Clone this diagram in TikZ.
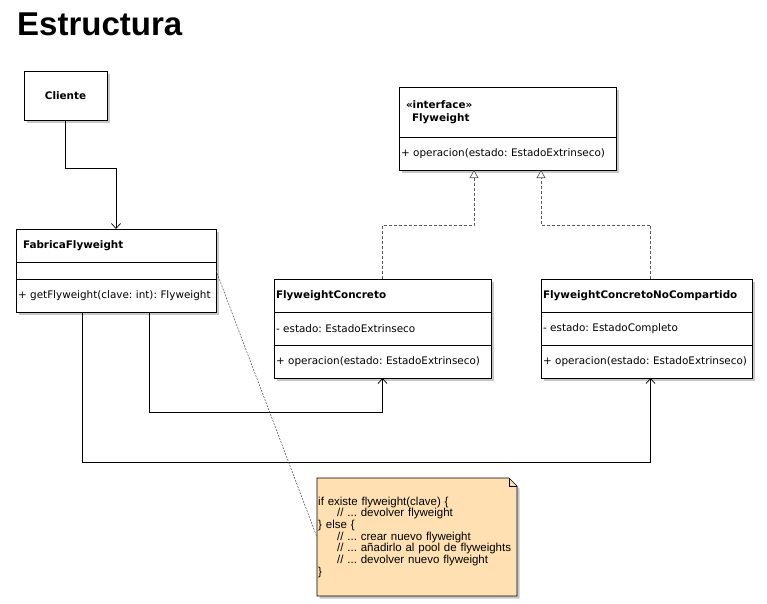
\documentclass[tikz,border=0pt]{standalone}
\usepackage{fontspec}
\setmainfont{DejaVu Sans}
\newfontfamily\umlfont{DejaVu Sans}
\newfontfamily\notafont{Liberation Sans}
\usetikzlibrary{calc,arrows.meta,shadows}
\definecolor{notaFondo}{RGB}{254,224,178}
\frenchspacing
\hyphenpenalty=10000
\exhyphenpenalty=10000

\tikzset{
  caja/.style={draw, fill=white, line width=0.8pt, anchor=north west, outer sep=0pt,
    inner xsep=2pt, inner ysep=0pt, align=left,
    font=\umlfont\fontsize{10.4}{13}\selectfont,
    drop shadow={shadow xshift=2.5pt, shadow yshift=-2.5pt, fill=black!22, opacity=1}},
  negrita/.style={font=\umlfont\bfseries\fontsize{10.4}{13}\selectfont},
  usa/.style={line width=0.7pt, -{Straight Barb[length=5pt,width=9pt]}},
  realiza/.style={line width=0.7pt, black!65, dash pattern=on 3pt off 2pt,
    -{Triangle[open,length=8pt,width=9pt,fill=white]}},
  enlace/.style={line width=0.5pt, black!70, dash pattern=on 2pt off 1.2pt}
}

\begin{document}
\begin{tikzpicture}[x=1pt,y=-1pt]
\useasboundingbox (0,0) rectangle (767,603);

\node[anchor=base west, inner sep=0pt, font=\notafont\bfseries\fontsize{33}{36}\selectfont] (titulo) at (17,35) {Estructura};

% cliente
\node[caja, negrita, anchor=center, align=center, minimum width=83pt, minimum height=49pt] (cliente) at (65.5,95.5) {Cliente};

% interfaz
\node[caja, negrita, text width=213pt, minimum height=50pt] (intNombre) at (399,87) {\hspace*{5pt}«interface»\\\hspace*{11pt}Flyweight};
\node[caja, text width=213pt, minimum height=33pt] (intOps) at (intNombre.south west) {+ operacion(estado: EstadoExtrinseco)};

% fabrica
\node[caja, negrita, text width=196pt, minimum height=33pt] (fabNombre) at (16,229) {\hspace*{5pt}FabricaFlyweight};
\node[caja, text width=196pt, minimum height=17pt] (fabAtrib) at (fabNombre.south west) {};
\node[caja, text width=196pt, minimum height=33pt] (fabOps) at (fabAtrib.south west) {+ getFlyweight(clave: int): Flyweight};

% concretos
\node[caja, negrita, text width=213pt, minimum height=33pt] (concNombre) at (274,279) {FlyweightConcreto};
\node[caja, text width=213pt, minimum height=33pt] (concAtrib) at (concNombre.south west) {- estado: EstadoExtrinseco};
\node[caja, text width=213pt, minimum height=33pt] (concOps) at (concAtrib.south west) {+ operacion(estado: EstadoExtrinseco)};

\node[caja, negrita, text width=207pt, minimum height=33pt] (noCompNombre) at (541,279) {FlyweightConcretoNoCompartido};
\node[caja, text width=207pt, minimum height=33pt] (noCompAtrib) at (noCompNombre.south west) {- estado: EstadoCompleto};
\node[caja, text width=207pt, minimum height=33pt] (noCompOps) at (noCompAtrib.south west) {+ operacion(estado: EstadoExtrinseco)};

\draw[usa] (cliente.south) -- ++(0,48) -| (fabNombre.north);
\draw[usa] ([xshift=33pt]fabOps.south) -- ++(0,100) -| (concOps.south);
\draw[usa] ([xshift=-34pt]fabOps.south) -- ++(0,150) -| ([xshift=4pt]noCompOps.south);

\draw[realiza] (concNombre.north) -- ++(0,-54) -| ([xshift=-33.5pt]intOps.south);
\draw[realiza] ([xshift=4pt]noCompNombre.north) -- ++(0,-54) -| ([xshift=33.5pt]intOps.south);

% nota
\begin{scope}[shift={(2.5,2.5)}]
\fill[black!22] (317,478) -- (509,478) -- (517,486) -- (517,596) -- (317,596) -- cycle;
\end{scope}
\draw[line width=0.7pt, fill=notaFondo] (317,478) -- (509,478) -- (517,486) -- (517,596) -- (317,596) -- cycle;
\draw[line width=0.5pt] (509,478) -- (509,486) -- (517,486);

\node[anchor=north west, inner xsep=1pt, inner ysep=0pt, text width=198pt, minimum height=118pt, align=left,
  font=\notafont\fontsize{11.5}{11.7}\selectfont] (nota) at (317,478)
  {if existe flyweight(clave) \{\\
   \hspace*{19pt}// ... devolver flyweight\\
   \} else \{\\
   \hspace*{19pt}// ... crear nuevo flyweight\\
   \hspace*{19pt}// ... añadirlo al pool de flyweights\\
   \hspace*{19pt}// ... devolver nuevo flyweight\\
   \}};

\draw[enlace] (fabAtrib.east) -- (nota.west);

\end{tikzpicture}
\end{document}
